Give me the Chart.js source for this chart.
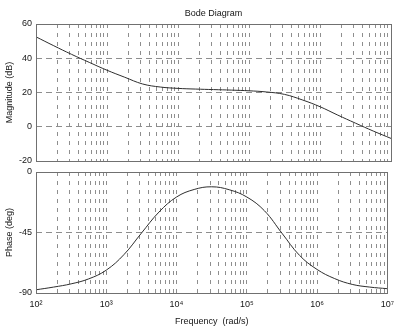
<!DOCTYPE html>
<html>
<head>
<meta charset="utf-8">
<script src="https://cdn.jsdelivr.net/npm/chart.js@4/dist/chart.umd.min.js"></script>
<style>
  html, body { margin: 0; padding: 0; background: #fff; }
  #wrap { position: relative; width: 400px; height: 332px; }
  #magCanvas { position: absolute; left: 0; top: 0; }
  #phaseCanvas { position: absolute; left: 0; top: 160px; }
</style>
</head>
<body>
<div id="wrap">
  <canvas id="magCanvas" width="400" height="172"></canvas>
  <canvas id="phaseCanvas" width="400" height="172"></canvas>
</div>
<script>
// frequency samples (rad/s), quarter-decade steps
const frequencies = [100, 178, 316, 562, 1000, 1780, 3160, 5620, 1e4, 1.78e4, 3.16e4, 5.62e4,
  1e5, 1.78e5, 3.16e5, 5.62e5, 1e6, 1.78e6, 3.16e6, 5.62e6, 1e7];
const magnitudeDb = [52.5, 47.3, 42.3, 37.6, 33.0, 28.9, 25.0, 23.2, 22.4, 22.0, 21.7, 21.4,
  21.0, 20.3, 18.9, 15.7, 11.7, 6.8, 2.1, -2.5, -6.8];
const phaseDeg = [-87.6, -85.6, -83.2, -79.5, -73.0, -61.5, -45.5, -29.8, -18.6, -13.0, -11.0, -13.2,
  -18.6, -28.8, -45.5, -62.0, -72.5, -79.3, -83.6, -85.6, -86.8];

const decadeTicks = [1e2, 1e3, 1e4, 1e5, 1e6, 1e7];
const decadeLabels = ["10\u00B2", "10\u00B3", "10\u2074", "10\u2075", "10\u2076", "10\u2077"];
const magTicks = [-20, 0, 20, 40, 60];
const phaseTicks = [-90, -45, 0];

const FONT = { family: "'Liberation Sans', Arial, sans-serif", size: 9, weight: "normal" };
const TEXT = "#151515";
const GRID = "#8e8e8e";

// box around the plot area
const framePlugin = {
  id: "frame",
  afterDatasetsDraw(chart) {
    const { ctx, chartArea: a } = chart;
    ctx.save();
    ctx.strokeStyle = "#707070";
    ctx.lineWidth = 1;
    ctx.strokeRect(Math.round(a.left) + 0.5, Math.round(a.top) + 0.5,
      Math.round(a.right - a.left), Math.round(a.bottom - a.top));
    ctx.restore();
  }
};

// grid lines at 1..9 x 10^n
function logGridTicks(scale) {
  const ticks = [];
  for (let p = 2; p < 7; p++) {
    for (let m = 1; m < 10; m++) ticks.push({ value: m * Math.pow(10, p), major: m === 1 });
  }
  ticks.push({ value: 1e7, major: true });
  scale.ticks = ticks;
}

function xScale(showLabels, height) {
  return {
    type: "logarithmic",
    min: 1e2,
    max: 1e7,
    afterBuildTicks: logGridTicks,
    afterFit(scale) { scale.height = height; },
    grid: { color: GRID, lineWidth: 1, drawTicks: false },
    border: { display: false, dash: [4, 5] },
    ticks: {
      display: showLabels,
      autoSkip: false,
      maxRotation: 0,
      padding: 6,
      color: TEXT,
      font: FONT,
      callback(value) {
        const i = decadeTicks.indexOf(value);
        return i >= 0 ? decadeLabels[i] : "";
      }
    },
    title: {
      display: showLabels,
      text: "Frequency  (rad/s)",
      color: TEXT,
      font: FONT,
      padding: { top: 0, bottom: 0 }
    }
  };
}

function yScale(min, max, tickValues, label) {
  return {
    min: min,
    max: max,
    afterBuildTicks(scale) { scale.ticks = tickValues.map(v => ({ value: v })); },
    afterFit(scale) { scale.width = 36; },
    grid: { color: GRID, lineWidth: 1, drawTicks: false },
    border: { display: false, dash: [6, 4] },
    ticks: { padding: 4, color: TEXT, font: FONT },
    title: {
      display: true,
      text: label,
      color: TEXT,
      font: FONT,
      padding: { top: 4, bottom: 0 }
    }
  };
}

function curve(values) {
  return {
    data: frequencies.map((f, i) => ({ x: f, y: values[i] })),
    borderColor: "#2e2e2e",
    borderWidth: 1,
    pointRadius: 0,
    tension: 0.4,
    fill: false
  };
}

new Chart(document.getElementById("magCanvas"), {
  type: "line",
  data: { datasets: [curve(magnitudeDb)] },
  options: {
    responsive: false,
    animation: false,
    devicePixelRatio: 1,
    layout: { padding: { left: 0, right: 9, top: 0, bottom: 11 } },
    plugins: {
      legend: { display: false },
      tooltip: { enabled: false },
      title: {
        display: true,
        text: "Bode Diagram",
        fullSize: false,
        color: TEXT,
        font: FONT,
        padding: { top: 8, bottom: 5.2 }
      }
    },
    scales: {
      x: xScale(false, 0),
      y: yScale(-20, 60, magTicks, "Magnitude (dB)")
    }
  },
  plugins: [framePlugin]
});

new Chart(document.getElementById("phaseCanvas"), {
  type: "line",
  data: { datasets: [curve(phaseDeg)] },
  options: {
    responsive: false,
    animation: false,
    devicePixelRatio: 1,
    layout: { padding: { left: 0, right: 9, top: 12, bottom: 5 } },
    plugins: {
      legend: { display: false },
      tooltip: { enabled: false }
    },
    scales: {
      x: xScale(true, 34),
      y: yScale(-90, 0, phaseTicks, "Phase (deg)")
    }
  },
  plugins: [framePlugin]
});
</script>
</body>
</html>
